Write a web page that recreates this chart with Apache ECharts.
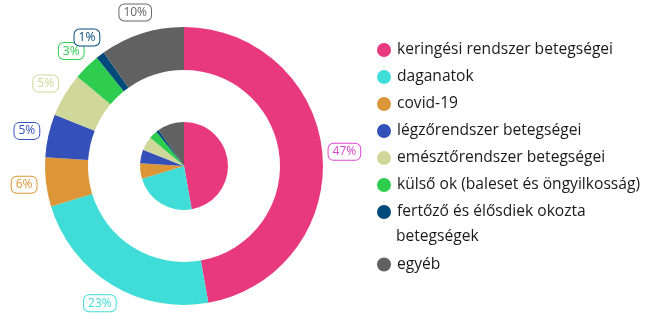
<!DOCTYPE html>
<html><head><meta charset="utf-8">
<script src="https://cdn.jsdelivr.net/npm/echarts@6/dist/echarts.min.js"></script>
<style>html,body{margin:0;padding:0;background:#fff}#c{width:662px;height:333px}</style>
</head><body><div id="c"></div>
<script>
var categories = ['keringési rendszer betegségei','daganatok','covid-19','légzőrendszer betegségei','emésztőrendszer betegségei','külső ok (baleset és öngyilkosság)','fertőző és élősdiek okozta betegségek','egyéb'];
var values = [47.2, 23.1, 5.7, 5.0, 5.1, 3.1, 1.0, 9.8];
var colors = ['#e8397f','#40dcd8','#dc9638','#3450b9','#cfd79b','#2ecc4f','#00497b','#616161'];
var labelColors = ['#d946cf','#40dcd8','#dc9638','#3450b9','#cfd79b','#2ecc4f','#00497b','#666666'];

var CX = 184, CY = 166, LR = 161;
var total = values.reduce(function(a,b){return a+b;},0);
var mids = [], acc = 0;
values.forEach(function(v){ mids.push((acc + v/2)/total*2*Math.PI); acc += v; });

var chart = echarts.init(document.getElementById('c'));
var font = '"Open Sans", "Noto Sans", sans-serif';
var outerData = categories.map(function(n,i){
  return {name:n, value:values[i], itemStyle:{color:colors[i]},
    label:{color:labelColors[i], borderColor:labelColors[i]}};
});
var innerData = categories.map(function(n,i){
  return {name:n, value:values[i], itemStyle:{color:colors[i]}};
});
var legendA = categories.slice(0,7);
var legendText = {fontSize:15.6, fontFamily:font, color:'#1a1a1a', lineHeight:27, padding:[0,0,0,1]};
chart.setOption({
  animation:false,
  legend:[{
    data: legendA, orient:'vertical', left:372, top:31.5, itemGap:0,
    icon:'circle', itemWidth:14, itemHeight:14,
    textStyle:legendText,
    formatter:function(n){ return n==='fertőző és élősdiek okozta betegségek' ? 'fertőző és élősdiek okozta' : n; }
  },{
    data:['egyéb'], orient:'vertical', left:372, top:246, itemGap:0,
    icon:'circle', itemWidth:14, itemHeight:14,
    textStyle:legendText
  }],
  graphic:[{type:'text', left:396, top:236-7, style:{text:'betegségek', fontSize:15.6, fontFamily:font, fill:'#1a1a1a'}}],
  series:[{
    type:'pie', center:[CX,CY], radius:[96,139], startAngle:90, clockwise:true,
    data: outerData,
    label:{show:true, position:'inside', fontSize:12, fontFamily:font, overflow:'none',
      formatter:function(p){return Math.round(p.percent)+'%';},
      backgroundColor:'#fff', borderWidth:1, borderRadius:5, padding:[3,4,1,4]},
    labelLine:{show:false},
    labelLayout:function(p){
      var a = mids[p.dataIndex];
      return {x: CX + LR*Math.sin(a), y: CY - LR*Math.cos(a), align:'center', verticalAlign:'middle'};
    },
    emphasis:{disabled:true}
  },{
    type:'pie', center:[CX,CY], radius:[0,44], startAngle:90, clockwise:true,
    data: innerData, label:{show:false}, labelLine:{show:false}, emphasis:{disabled:true}
  }]
});
</script></body></html>
